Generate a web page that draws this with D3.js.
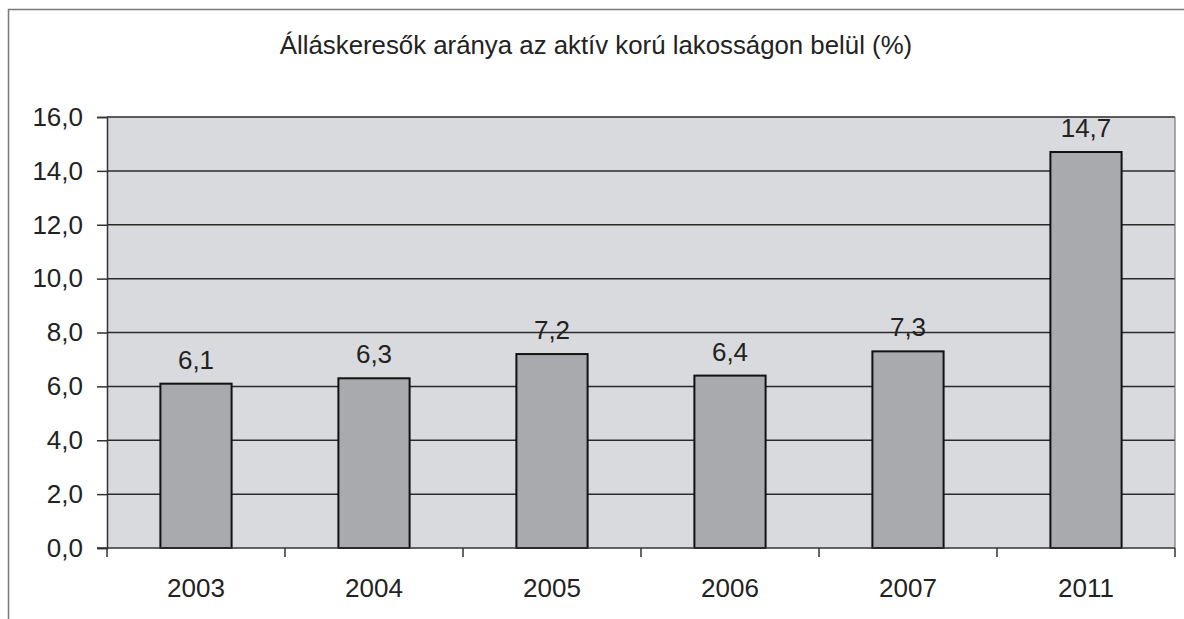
<!DOCTYPE html>
<html>
<head>
<meta charset="utf-8">
<script src="https://cdn.jsdelivr.net/npm/d3@7"></script>
<style>
  body { margin: 0; background: #fff; }
  text { font-family: "Liberation Sans", Arial, sans-serif; fill: #222; }
</style>
</head>
<body>
<svg></svg>
<script>
const years = ["2003", "2004", "2005", "2006", "2007", "2011"];
const values = [6.1, 6.3, 7.2, 6.4, 7.3, 14.7];
const yTicks = [0, 2, 4, 6, 8, 10, 12, 14, 16];
const title = "Álláskeresők aránya az aktív korú lakosságon belül (%)";

const width = 1184, height = 619;
const plot = { left: 107, right: 1175, top: 117, bottom: 548 };

const svg = d3.select("svg").attr("width", width).attr("height", height);

// outer frame (only left and top edge visible in the scan)
svg.append("path")
    .attr("d", `M8.5,${height} V9.5 H${width}`)
    .attr("fill", "none")
    .attr("stroke", "#7a7a7a")
    .attr("stroke-width", 1.5);

svg.append("text")
    .attr("x", 596)
    .attr("y", 54)
    .attr("text-anchor", "middle")
    .style("font-size", "25.8px")
    .text(title);

const x = d3.scaleBand().domain(years).range([plot.left, plot.right]).padding(0);
const y = d3.scaleLinear().domain([0, 16]).range([plot.bottom, plot.top]);
const fmt = v => d3.format(".1f")(v).replace(".", ",");

// plot area
svg.append("rect")
    .attr("x", plot.left)
    .attr("y", plot.top)
    .attr("width", plot.right - plot.left)
    .attr("height", plot.bottom - plot.top)
    .attr("fill", "#d8dadd");

// gridlines
svg.append("g")
    .selectAll("line")
    .data(yTicks.slice(1))
    .enter().append("line")
    .attr("x1", plot.left)
    .attr("x2", plot.right)
    .attr("y1", d => y(d))
    .attr("y2", d => y(d))
    .attr("stroke", "#2a2a2a")
    .attr("stroke-width", 1.5);

// right border of plot area
svg.append("line")
    .attr("x1", plot.right).attr("x2", plot.right)
    .attr("y1", plot.top).attr("y2", plot.bottom)
    .attr("stroke", "#777").attr("stroke-width", 1.2);

// bars
const barW = x.bandwidth() * 0.4;
svg.append("g")
    .selectAll("rect")
    .data(values)
    .enter().append("rect")
    .attr("x", (d, i) => x(years[i]) + (x.bandwidth() - barW) / 2)
    .attr("y", d => y(d))
    .attr("width", barW)
    .attr("height", d => y(0) - y(d))
    .attr("fill", "#a8aaad")
    .attr("stroke", "#111")
    .attr("stroke-width", 2);

// value labels
svg.append("g")
    .selectAll("text")
    .data(values)
    .enter().append("text")
    .attr("x", (d, i) => x(years[i]) + x.bandwidth() / 2)
    .attr("y", d => y(d) - 15)
    .attr("text-anchor", "middle")
    .style("font-size", "26px")
    .text(d => fmt(d));

// y axis
const yAxis = svg.append("g")
    .attr("transform", `translate(${plot.left},0)`)
    .call(d3.axisLeft(y).tickValues(yTicks).tickSize(10).tickPadding(14).tickFormat(fmt));
yAxis.select(".domain").attr("stroke", "#333").attr("stroke-width", 1.5);
yAxis.selectAll(".tick line").attr("stroke", "#333").attr("stroke-width", 1.5);
yAxis.selectAll("text").style("font-size", "26px").attr("fill", "#222")
    .attr("font-family", "Liberation Sans, Arial, sans-serif");

// x axis: ticks at category boundaries
const xAxis = svg.append("g").attr("transform", `translate(0,${plot.bottom})`);
xAxis.append("line")
    .attr("x1", plot.left - 10).attr("x2", plot.right)
    .attr("stroke", "#333").attr("stroke-width", 1.5);
const bounds = years.map(d => x(d)).concat([plot.right]);
xAxis.selectAll(".bt")
    .data(bounds)
    .enter().append("line")
    .attr("class", "bt")
    .attr("x1", d => d).attr("x2", d => d)
    .attr("y1", 0).attr("y2", 9)
    .attr("stroke", "#333").attr("stroke-width", 1.5);
xAxis.selectAll("text")
    .data(years)
    .enter().append("text")
    .attr("x", d => x(d) + x.bandwidth() / 2)
    .attr("y", 49)
    .attr("text-anchor", "middle")
    .style("font-size", "26px")
    .text(d => d);
</script>
</body>
</html>
